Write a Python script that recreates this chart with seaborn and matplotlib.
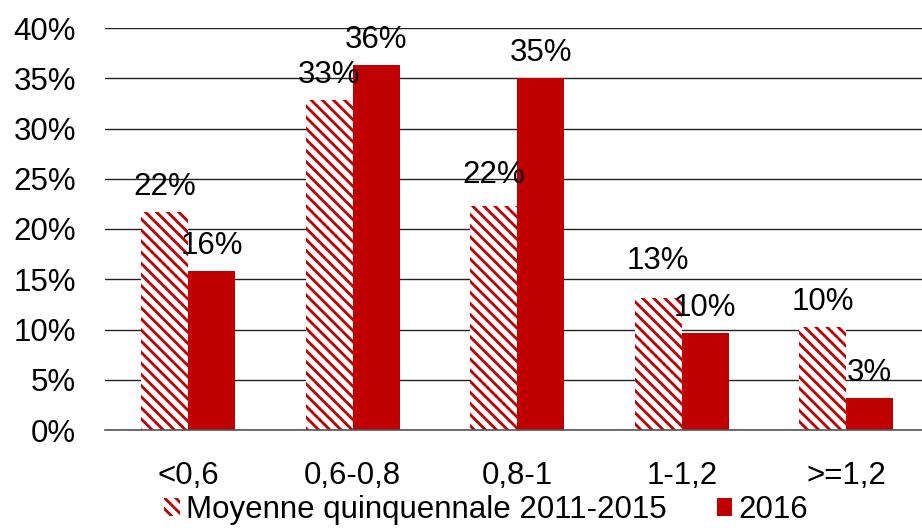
import pandas as pd
import matplotlib
matplotlib.use("Agg")
import matplotlib.pyplot as plt
import matplotlib.patches as mpatches
import seaborn as sns

# Data
classes = ["<0,6", "0,6-0,8", "0,8-1", "1-1,2", ">=1,2"]
moyenne = [21.7, 32.8, 22.3, 13.1, 10.2]
annee_2016 = [15.8, 36.3, 35.0, 9.7, 3.2]
series = ["Moyenne quinquennale 2011-2015", "2016"]
yticks = [0, 5, 10, 15, 20, 25, 30, 35, 40]

RED = "#C00000"
FS = 22.5

df = pd.DataFrame({
    "classe": classes * 2,
    "valeur": moyenne + annee_2016,
    "serie": [series[0]] * len(classes) + [series[1]] * len(classes),
})

sns.set_style("white")
plt.rcParams["font.family"] = ["Liberation Sans", "DejaVu Sans"]
plt.rcParams["hatch.linewidth"] = 2.0
plt.rcParams["text.color"] = "black"

fig = plt.figure(figsize=(9.22, 5.31), dpi=100)
ax = fig.add_axes([105 / 922, 1 - 430 / 531, 1 - 105 / 922, (430 - 28) / 531])

sns.barplot(data=df, x="classe", y="valeur", hue="serie", order=classes,
            hue_order=series, palette=[RED, RED], width=0.572,
            saturation=1, legend=False, ax=ax)

# hatched style for the 5-year average (hatch takes the edge colour)
for bar in ax.containers[0]:
    bar.set_facecolor("white")
    bar.set_edgecolor(RED)
    bar.set_linewidth(0)
    bar.set_hatch("\\\\\\")
for bar in ax.containers[1]:
    bar.set_edgecolor("none")

# value labels (Excel pushed a couple of them a bit higher)
nudge = {(0, 2): 6, (0, 3): 12}
for i, cont in enumerate(ax.containers):
    for j, bar in enumerate(cont):
        h = bar.get_height()
        ax.annotate(f"{round(h):.0f}%", (bar.get_x() + bar.get_width() / 2, h),
                    xytext=(0, 17 + nudge.get((i, j), 0)), textcoords="offset pixels",
                    ha="center", va="baseline", fontsize=FS, color="black")

ax.set_ylim(0, 40)
ax.set_xlim(-0.505, 4.46)
ax.set_yticks(yticks)
ax.set_yticklabels([f"{t}%" for t in yticks])
ax.yaxis.grid(True, color="#222222", linewidth=1)
ax.set_axisbelow(True)
for s in ["top", "right", "left"]:
    ax.spines[s].set_visible(False)
ax.spines["bottom"].set_color("#555555")
ax.spines["bottom"].set_linewidth(1.2)
ax.tick_params(axis="both", length=0, labelsize=FS, labelcolor="black")
ax.tick_params(axis="y", pad=21)
ax.tick_params(axis="x", pad=22)
ax.set_xlabel("")
ax.set_ylabel("")

handles = [
    mpatches.Patch(facecolor="white", edgecolor=RED, linewidth=0, hatch="\\\\\\", label=series[0]),
    mpatches.Patch(facecolor=RED, edgecolor="none", label=series[1]),
]
fig.legend(handles=handles, loc="lower center", bbox_to_anchor=(486 / 922, -0.012),
           ncol=2, frameon=False, fontsize=FS, handlelength=0.5, handleheight=0.5,
           handletextpad=0.2, columnspacing=1.6, borderaxespad=0)

fig.savefig("out.png", dpi=100)
